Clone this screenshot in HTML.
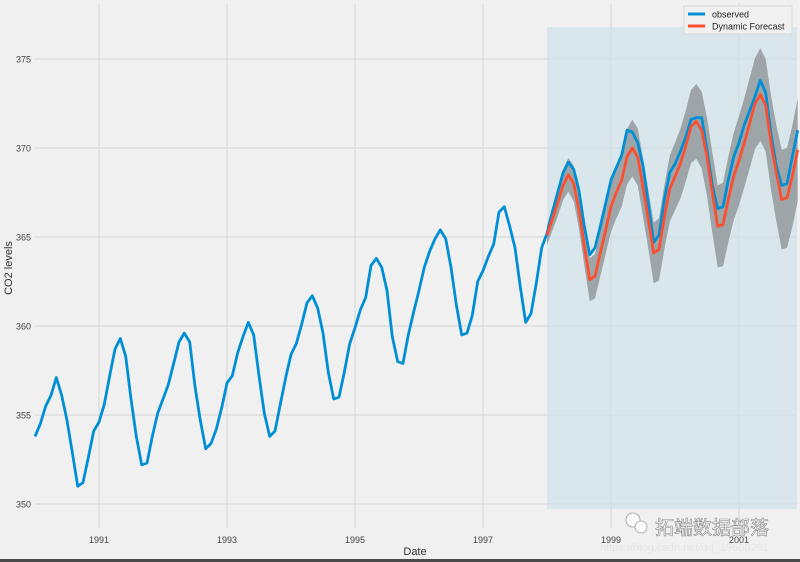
<!DOCTYPE html>
<html><head><meta charset="utf-8"><style>
html,body{margin:0;padding:0;background:#f0f0f0;}
svg{display:block;font-family:"Liberation Sans","Noto Sans CJK SC",sans-serif;}
</style></head><body>
<svg id="chart" width="800" height="562" viewBox="0 0 800 562" xmlns="http://www.w3.org/2000/svg">
<rect x="0" y="0" width="800" height="562" fill="#f0f0f0"/>
<g id="grid"></g>
<g id="shade"></g>
<g id="series"></g>
<g id="axes"></g>
<g>
<rect x="684" y="6" width="108" height="28" fill="#f0f0f0" stroke="#d8d8d8" stroke-width="1"/>
<line x1="688" y1="14" x2="705" y2="14" stroke="#008fd5" stroke-width="3"/>
<text x="712" y="17.5" font-size="9" fill="#222">observed</text>
<line x1="688" y1="26" x2="705" y2="26" stroke="#fc4f30" stroke-width="3"/>
<text x="712" y="29.5" font-size="9" fill="#222">Dynamic Forecast</text>
</g>
<text x="415" y="555" font-size="11" fill="#333" text-anchor="middle">Date</text>
<text transform="translate(12,268) rotate(-90)" font-size="11" fill="#333" text-anchor="middle">CO2 levels</text>
<text x="655" y="534" font-size="19" fill="#fff" stroke="#888" stroke-width="0.6">拓端数据部落</text>
<circle x="0" cx="633" cy="520" r="7" fill="#fff" stroke="#999" stroke-width="0.8"/>
<circle cx="641" cy="527" r="6" fill="#fff" stroke="#999" stroke-width="0.8"/>
<text x="600" y="551" font-size="11" fill="#e4e4e4">https://blog.csdn.net/qq_19600291</text>
<rect x="0" y="559" width="800" height="3" fill="#4a4a4a"/>
</svg>
<script>
const observed = [
353.8,354.5,355.5,356.1,357.1,356.1,354.7,352.9,351.0,351.2,352.6,354.1,
354.6,355.6,357.2,358.7,359.3,358.3,355.9,353.8,352.2,352.3,353.8,355.1,
355.9,356.7,357.9,359.1,359.6,359.1,356.6,354.7,353.1,353.4,354.2,355.4,
356.8,357.2,358.5,359.4,360.2,359.5,357.2,355.1,353.8,354.1,355.6,357.1,
358.4,359.0,360.1,361.3,361.7,361.0,359.6,357.4,355.9,356.0,357.4,359.0,
359.9,360.9,361.6,363.4,363.8,363.3,362.0,359.4,358.0,357.9,359.5,360.8,
362.0,363.3,364.2,364.9,365.4,364.9,363.3,361.2,359.5,359.6,360.6,362.5,
363.1,363.9,364.6,366.4,366.7,365.6,364.4,362.2,360.2,360.7,362.4,364.4,
365.2,366.4,367.5,368.6,369.2,368.8,367.6,365.6,364.0,364.4,365.6,366.9,
368.2,368.9,369.6,371.0,370.9,370.3,369.0,366.9,364.7,365.1,367.1,368.6,
369.1,369.8,370.6,371.6,371.7,371.7,369.9,367.9,366.6,366.7,368.2,369.5,
370.3,371.3,372.1,372.9,373.8,373.1,370.8,369.0,367.9,368.0,369.5,371.0
];
const forecastStart = 96;
const forecast = [
365.1,366.0,366.9,367.9,368.5,368.0,366.5,364.5,362.6,362.8,364.1,365.4,
366.7,367.5,368.2,369.5,370.0,369.5,367.8,366.0,364.1,364.3,366.1,367.7,
368.4,369.1,370.1,371.2,371.5,371.0,369.5,367.5,365.6,365.7,367.1,368.4,
369.3,370.3,371.4,372.5,373.0,372.4,370.3,368.6,367.1,367.2,368.4,369.9
];
const ciHalfWidth = [
0.55,0.65,0.75,0.85,0.95,1.0,1.05,1.1,1.2,1.25,1.3,1.35,
1.4,1.45,1.5,1.55,1.6,1.6,1.65,1.65,1.7,1.75,1.8,1.85,
1.9,1.95,2.0,2.05,2.1,2.15,2.2,2.25,2.3,2.35,2.4,2.45,
2.5,2.5,2.55,2.55,2.6,2.6,2.65,2.7,2.8,2.8,2.85,2.9
];
const xTickYears = [1991,1993,1995,1997,1999,2001];
const yTicks = [350,355,360,365,370,375];

const NS = "http://www.w3.org/2000/svg";
const X0 = 35, PX_PER_MONTH = 64/12;
const Y350 = 504, PX_PER_UNIT = 17.8;
function xScale(m){ return X0 + m*PX_PER_MONTH; }
function xYear(yr){ return xScale((yr-1990)*12); }
function yScale(v){ return Y350 - (v-350)*PX_PER_UNIT; }
function mk(tag, attrs, parent){
  const e = document.createElementNS(NS, tag);
  for (const k in attrs) e.setAttribute(k, attrs[k]);
  parent.appendChild(e);
  return e;
}
const grid = document.getElementById('grid');
const shade = document.getElementById('shade');
const series = document.getElementById('series');
const axes = document.getElementById('axes');

yTicks.forEach(function(t){
  const y = yScale(t);
  const l = mk('line',{x1:35,x2:797,y1:y,y2:y,stroke:'#d9d9d9','stroke-width':1.2},grid);
  
  
  const tx = mk('text',{x:31,y:y+3.5,'font-size':9,fill:'#444','text-anchor':'end'},axes);
  tx.textContent = t;
  
  
});
xTickYears.forEach(function(yr){
  const x = xYear(yr);
  const l = mk('line',{x1:x,x2:x,y1:4,y2:528,stroke:'#d9d9d9','stroke-width':1.2},grid);
  
  
  const tx = mk('text',{x:x,y:543,'font-size':9,fill:'#444','text-anchor':'middle'},axes);
  tx.textContent = yr;
  
  
});

const sx = xScale(forecastStart);
const sr = mk('rect',{x:sx,y:27,width:797-sx,height:482,fill:'#cfe1ea','fill-opacity':0.7},shade);



let up = [], lo = [];
forecast.forEach(function(v,i){
  up.push(xScale(forecastStart+i).toFixed(1)+','+yScale(v+ciHalfWidth[i]).toFixed(1));
  lo.unshift(xScale(forecastStart+i).toFixed(1)+','+yScale(v-ciHalfWidth[i]).toFixed(1));
});
const band = mk('polygon',{points:up.concat(lo).join(' '),fill:'#8a8f91','fill-opacity':0.75},series);



const obsPts = observed.map(function(v,i){ return xScale(i).toFixed(1)+','+yScale(v).toFixed(1); }).join(' ');
const obs = mk('polyline',{points:obsPts,fill:'none',stroke:'#008fd5','stroke-width':2.8,'stroke-linejoin':'round'},series);



const fcPts = forecast.map(function(v,i){ return xScale(forecastStart+i).toFixed(1)+','+yScale(v).toFixed(1); }).join(' ');
const fc = mk('polyline',{points:fcPts,fill:'none',stroke:'#fc4f30','stroke-width':2.8,'stroke-linejoin':'round'},series);


</script>
</body></html>
